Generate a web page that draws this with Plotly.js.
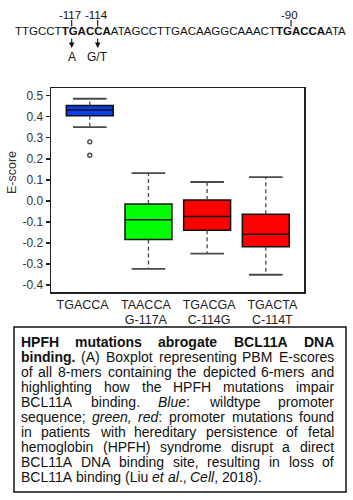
<!DOCTYPE html>
<html><head><meta charset="utf-8">
<script src="https://cdn.plot.ly/plotly-3.0.1.min.js"></script>
<style>html,body{margin:0;padding:0;background:#fff;}#chart{width:353px;height:500px;}</style>
</head><body><div id="chart"></div>
<script>
// ---- data ----
const categories = ["TGACCA", "TAACCA", "TGACGA", "TGACTA"];
const mutations = ["", "G-117A", "C-114G", "C-114T"];
const boxColors = ["#0b3df2", "#00ff00", "#ff0000", "#ff0000"];
const q1 = [0.405, -0.183, -0.139, -0.218];
const median = [0.432, -0.089, -0.074, -0.158];
const q3 = [0.454, -0.015, 0.004, -0.063];
const lowerWhisker = [0.351, -0.323, -0.251, -0.351];
const upperWhisker = [0.486, 0.132, 0.090, 0.113];
const outlierCat = ["TGACCA", "TGACCA"];
const outlierVal = [0.281, 0.217];
const yTickVals = [-0.4, -0.3, -0.2, -0.1, 0.0, 0.1, 0.2, 0.3, 0.4, 0.5];
const yTickText = ["-0.4", "-0.3", "-0.2", "-0.1", "0.0", "0.1", "0.2", "0.3", "0.4", "0.5"];
const sequence = "TTGCCT<b>TGACCA</b>ATAGCCTTGACAAGGCAAACT<b>TGACCA</b>ATA";
const positionLabels = ["-117", "-114", "-90"];
const substitutionLabels = ["A", "G/T"];
const captionLines = [
  "<b>HPFH mutations abrogate BCL11A DNA</b>",
  "<b>binding.</b> (A) Boxplot representing PBM E-scores",
  "of all 8-mers containing the depicted 6-mers and",
  "highlighting how the HPFH mutations impair",
  "BCL11A binding. <i>Blue</i>: wildtype promoter",
  "sequence; <i>green,</i> <i>red</i>: promoter mutations found",
  "in patients with hereditary persistence of fetal",
  "hemoglobin (HPFH) syndrome disrupt a direct",
  "BCL11A DNA binding site, resulting in loss of",
  "BCL11A binding (Liu <i>et</i> <i>al</i>., <i>Cell</i>, 2018)."
];

// ---- layout geometry (pixels) ----
const W = 353, H = 500, L = 51, R = 304, T = 88, B = 292;
const px = x => (x - L) / (R - L);
const py = y => (B - y) / (B - T);
const FONT = "Liberation Sans, Arial, sans-serif";
const ink = "#222";
const grey = "#4a4a4a";

const traces = [];
categories.forEach((c, i) => {
  traces.push({
    type: "box", x: [c], q1: [q1[i]], median: [median[i]], q3: [q3[i]],
    lowerfence: [q1[i]], upperfence: [q3[i]],
    fillcolor: boxColors[i], line: {color: "#111", width: 1.5},
    width: 0.8, whiskerwidth: 0, boxpoints: false,
    showlegend: false, hoverinfo: "skip"
  });
});
// dashed whiskers
traces.push({
  type: "scatter", mode: "lines", showlegend: false, hoverinfo: "skip",
  x: categories.flatMap(c => [c, c, null, c, c, null]),
  y: categories.flatMap((c, i) => [q3[i], upperWhisker[i], null, q1[i], lowerWhisker[i], null]),
  line: {color: grey, width: 1.3, dash: "4px,3px"}
});
// whisker caps
traces.push({
  type: "scatter", mode: "markers", showlegend: false, hoverinfo: "skip",
  x: categories.flatMap(c => [c, c]),
  y: categories.flatMap((c, i) => [upperWhisker[i], lowerWhisker[i]]),
  marker: {symbol: "line-ew", size: 24, color: grey, line: {color: grey, width: 1.8}}
});
// outliers
traces.push({
  type: "scatter", mode: "markers", showlegend: false, hoverinfo: "skip",
  x: outlierCat, y: outlierVal,
  marker: {symbol: "circle-open", size: 4, color: grey, line: {color: grey, width: 1.4}}
});
// label axis carriers
traces.push({
  type: "scatter", mode: "markers", xaxis: "x2", yaxis: "y", showlegend: false, hoverinfo: "skip",
  x: categories, y: categories.map(() => null)
});
traces.push({
  type: "scatter", mode: "markers", xaxis: "x3", yaxis: "y", showlegend: false, hoverinfo: "skip",
  x: categories, y: categories.map(() => null)
});

// ---- caption, justified word by word ----
const annotations = [];
const capSize = 14.0;
const canvas = document.createElement("canvas");
const ctx = canvas.getContext("2d");
function measure(text, bold, italic) {
  ctx.font = (italic ? "italic " : "") + (bold ? "bold " : "") + capSize + "px 'Liberation Sans'";
  return ctx.measureText(text).width;
}
const capLeft = 21, capRight = 334, capTop = 342, capStep = 15.0;
captionLines.forEach((line, li) => {
  const tokens = line.match(/<\/?[bi]>|[^<]+/g);
  let bold = false, italic = false;
  const words = [];
  let cur = null;
  const newWord = () => { cur = {html: "", width: 0}; words.push(cur); };
  newWord();
  tokens.forEach(tok => {
    if (tok === "<b>") { bold = true; return; }
    if (tok === "</b>") { bold = false; return; }
    if (tok === "<i>") { italic = true; return; }
    if (tok === "</i>") { italic = false; return; }
    const parts = tok.split(" ");
    parts.forEach((p, k) => {
      if (k > 0) newWord();
      if (!p) return;
      let h = p;
      if (italic) h = "<i>" + h + "</i>";
      if (bold) h = "<b>" + h + "</b>";
      cur.html += h;
      cur.width += measure(p, bold, italic);
    });
  });
  const ws = words.filter(w => w.html);
  const total = ws.reduce((s, w) => s + w.width, 0);
  const last = li === captionLines.length - 1;
  let gap = last || ws.length < 2 ? measure(" ", false, false) : (capRight - capLeft - total) / (ws.length - 1);
  let x = capLeft;
  const y = Math.round(capTop + li * capStep);
  ws.forEach(w => {
    annotations.push({
      xref: "paper", yref: "paper", x: px(x), y: py(y), xanchor: "left", yanchor: "middle",
      text: w.html, showarrow: false, borderpad: 0, borderwidth: 0,
      font: {family: FONT, size: capSize, color: "#111"}
    });
    x += w.width + gap;
  });
});

// sequence line
annotations.push({
  xref: "paper", yref: "paper", x: px(14), y: py(31), xanchor: "left", yanchor: "middle",
  text: sequence, showarrow: false, borderpad: 0, font: {family: FONT, size: 11.5, color: "#111"}
});
const tickX = [71.7, 97.7, 291];
positionLabels.forEach((t, i) => {
  annotations.push({
    xref: "paper", yref: "paper", x: px(tickX[i] - 1.5), y: py(15), xanchor: "center", yanchor: "middle",
    text: t, showarrow: false, borderpad: 0, font: {family: FONT, size: 11.5, color: "#111"}
  });
});
substitutionLabels.forEach((t, i) => {
  annotations.push({
    xref: "paper", yref: "paper", x: px(tickX[i]), y: py(48), ax: 0, ay: -11,
    text: "", showarrow: true, arrowhead: 2, arrowsize: 1, arrowwidth: 1.1, arrowcolor: "#111"
  });
  annotations.push({
    xref: "paper", yref: "paper", x: px(tickX[i]), y: py(57), xanchor: "center", yanchor: "middle",
    text: t, showarrow: false, borderpad: 0, font: {family: FONT, size: 12, color: "#111"}
  });
});
// y label
annotations.push({
  xref: "paper", yref: "paper", x: px(12), y: py(173), xanchor: "center", yanchor: "middle",
  text: "E-score", textangle: -90, showarrow: false, font: {family: FONT, size: 12.5, color: "#333"}
});

const shapes = [
  {type: "rect", xref: "paper", yref: "paper", x0: px(14), x1: px(346), y0: py(327), y1: py(492),
   line: {color: "#111", width: 1.5}, fillcolor: "rgba(0,0,0,0)"}
];
tickX.forEach(x => shapes.push({
  type: "line", xref: "paper", yref: "paper", x0: px(x), x1: px(x), y0: py(20), y1: py(26.5),
  line: {color: "#111", width: 1.1}
}));

const labelFont = {family: FONT, size: 12.5, color: "#222"};
const layout = {
  width: W, height: H, margin: {l: L, r: W - R, t: T, b: H - B, pad: 0},
  paper_bgcolor: "#fff", plot_bgcolor: "#fff", showlegend: false, boxmode: "overlay",
  font: {family: FONT, color: ink},
  xaxis: {type: "category", categoryarray: categories, range: [-0.661, 3.651],
          showticklabels: false, ticks: "", showgrid: false, zeroline: false,
          showline: true, mirror: true, linecolor: ink, linewidth: 1.5},
  xaxis2: {type: "category", categoryarray: categories, overlaying: "x", side: "bottom",
           range: [-0.5, 3.5], tickvals: categories, ticktext: categories,
           ticks: "", showgrid: false, zeroline: false, showline: false,
           ticklabelstandoff: 3, tickfont: labelFont},
  xaxis3: {type: "category", categoryarray: categories, overlaying: "x", side: "bottom",
           range: [-0.5, 3.5], tickvals: categories, ticktext: mutations,
           ticks: "", showgrid: false, zeroline: false, showline: false,
           ticklabelstandoff: 18, tickfont: labelFont},
  yaxis: {range: [-0.433, 0.537], tickvals: yTickVals, ticktext: yTickText,
          ticks: "outside", ticklen: 4, tickwidth: 1.3, tickcolor: ink,
          showgrid: false, zeroline: false, showline: true, mirror: true,
          linecolor: ink, linewidth: 1.5, tickfont: {family: FONT, size: 12, color: "#333"}},
  annotations: annotations, shapes: shapes
};
Plotly.newPlot("chart", traces, layout, {staticPlot: true, displayModeBar: false});
</script></body></html>
